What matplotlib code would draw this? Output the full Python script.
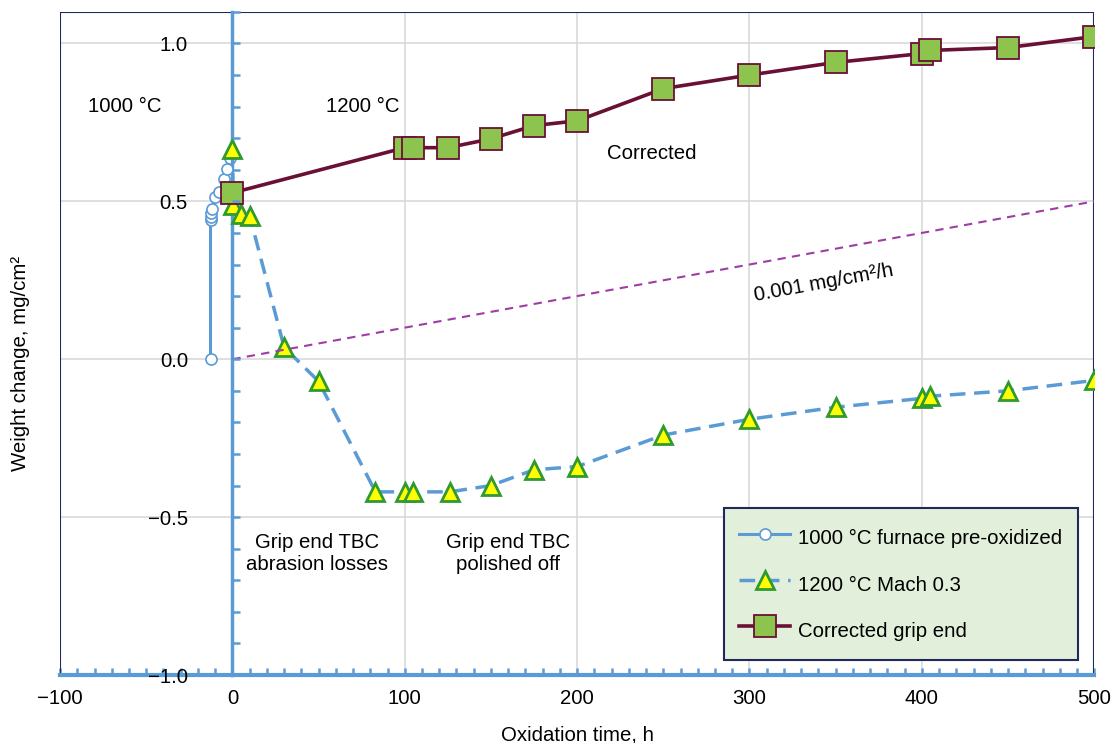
import matplotlib.pyplot as plt
from matplotlib.ticker import MultipleLocator, FuncFormatter
from matplotlib.patches import Rectangle

plt.rcParams["font.family"] = ["Liberation Sans", "DejaVu Sans"]

# 1000 C furnace pre-oxidized
t_1000 = [-12.7, -12.7, -12.5, -12.2, -11.8, -9.9, -7.5, -5.0, -3.1, -1.2]
w_1000 = [0.0, 0.44, 0.45, 0.462, 0.475, 0.514, 0.53, 0.572, 0.604, 0.636]

# 1200 C Mach 0.3
t_mach = [0, 0.5, 5, 10, 30, 50, 83, 100, 105, 126, 150, 175, 200, 250, 300, 350, 400, 405, 450, 500]
w_mach = [0.667, 0.49, 0.46, 0.455, 0.038, -0.07, -0.42, -0.42, -0.42, -0.42, -0.40, -0.35,
          -0.34, -0.24, -0.19, -0.152, -0.124, -0.117, -0.10, -0.067]

# corrected grip end
t_corr = [0, 100, 105, 125, 150, 175, 200, 250, 300, 350, 400, 405, 450, 500]
w_corr = [0.527, 0.67, 0.67, 0.67, 0.698, 0.74, 0.755, 0.857, 0.90, 0.94, 0.968, 0.978, 0.987, 1.022]

# linear rate reference
t_rate = [0, 500]
w_rate = [0.0, 0.5]

blue = "#5b9bd5"
maroon = "#6a1035"
navy = "#1f2a5c"
purple = "#a03ca6"
fs = 14.7

fig = plt.figure(figsize=(11.12, 7.43), dpi=100)
ax = fig.add_axes([0.054, 0.0915, 0.93, 0.8925])

ax.plot(t_1000, w_1000, color=blue, lw=2.2, marker="o", ms=8, mfc="white",
        mec=blue, mew=1.2, label="1000 °C furnace pre-oxidized", zorder=3)
ax.plot(t_mach, w_mach, color=blue, lw=2.5, ls=(0, (4.5, 2.5)), marker="^", ms=13.5,
        mfc="#ffff00", mec="#2f9a2f", mew=2, label="1200 °C Mach 0.3", zorder=4)
ax.plot(t_corr, w_corr, color=maroon, lw=2.6, marker="s", ms=16,
        mfc="#8dc44e", mec=maroon, mew=1.3, label="Corrected grip end", zorder=5)
ax.plot(t_rate, w_rate, color=purple, lw=1.5, ls=(0, (4, 3)), zorder=6)

ax.set_xlim(-100, 500)
ax.set_ylim(-1.0, 1.1)

# axes cross at x = 0 / y = -1
ax.spines["left"].set_position(("data", 0))
ax.spines["left"].set_color(blue)
ax.spines["left"].set_linewidth(2.5)
ax.spines["bottom"].set_color(blue)
ax.spines["bottom"].set_linewidth(3)
ax.spines["top"].set_visible(False)
ax.spines["right"].set_visible(False)
ax.add_patch(Rectangle((0, 0), 1, 1, transform=ax.transAxes, fill=False,
                       edgecolor=navy, lw=1.5, zorder=1))

ax.xaxis.set_major_locator(MultipleLocator(100))
ax.xaxis.set_minor_locator(MultipleLocator(10))
ax.yaxis.set_major_locator(MultipleLocator(0.5))
ax.yaxis.set_minor_locator(MultipleLocator(0.1))
ax.yaxis.set_major_formatter(FuncFormatter(lambda v, p: f"{v:.1f}".replace("-", "\u2212")))
ax.xaxis.set_major_formatter(FuncFormatter(lambda v, p: f"{v:.0f}".replace("-", "\u2212")))

ax.tick_params(axis="x", which="both", direction="in", length=5, width=1.8,
               color=blue, labelsize=fs, pad=10)
ax.tick_params(axis="y", which="both", direction="in", length=6, width=1.8,
               color=blue, labelsize=fs, pad=32)

# gridlines kept below the data, y tick labels drawn over the axis line
ax.grid(True, axis="x", which="major", color="#d9d9d9", lw=1.2)
ax.set_axisbelow(True)
for yv in ax.get_yticks():
    ax.axhline(yv, color="#d9d9d9", lw=1.2, zorder=0.4)
ax.yaxis.set_zorder(8)

ax.set_xlabel("Oxidation time, h", fontsize=fs, labelpad=13)
ax.set_ylabel("Weight change, mg/cm²", fontsize=fs)
ax.yaxis.set_label_coords(-0.029, 0.47, transform=ax.transAxes)

# annotations
ax.text(-84, 0.80, "1000 °C", fontsize=fs, va="center")
ax.text(54.5, 0.80, "1200 °C", fontsize=fs, va="center")
ax.text(217.5, 0.653, "Corrected", fontsize=fs, va="center")
ax.text(303.5, 0.185, "0.001 mg/cm²/h", fontsize=fs, rotation=10.4,
        rotation_mode="anchor", ha="left", va="baseline")
ax.text(49.3, -0.615, "Grip end TBC\nabrasion losses", fontsize=fs,
        ha="center", va="center", linespacing=1.15)
ax.text(160, -0.615, "Grip end TBC\npolished off", fontsize=fs,
        ha="center", va="center", linespacing=1.15)

leg = ax.legend(loc="lower right", bbox_to_anchor=(0.984, 0.0226), fontsize=fs,
                facecolor="#e2efda", edgecolor=navy, framealpha=1, fancybox=False,
                labelspacing=0.85, handleheight=1.8, handlelength=2.5, borderpad=0.75,
                handletextpad=0.4, borderaxespad=0)
leg.get_frame().set_linewidth(1.5)
leg.set_zorder(10)

plt.savefig("out.png", dpi=100)
